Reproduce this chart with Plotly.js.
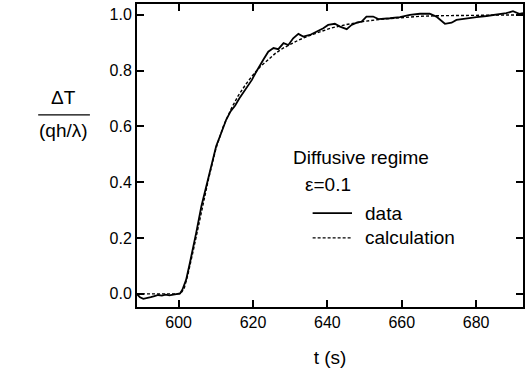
<!DOCTYPE html>
<html><head><meta charset="utf-8">
<script src="https://cdn.plot.ly/plotly-3.0.1.min.js"></script>
<style>html,body{margin:0;padding:0;background:#fff;}#plot{width:531px;height:378px;}</style>
</head><body><div id="plot"></div>
<script>
const dataT = [588.9,589.6,590.5,591.5,592.5,593.5,594.5,595.5,596.5,597.5,598.5,599.5,600.4,601.0,602.0,603.0,603.4,604.7,606.1,607.4,608.7,610.1,611.4,612.8,614.0,615.2,616.3,617.4,618.5,619.7,620.6,621.4,622.8,624.1,625.5,626.8,628.2,629.5,630.8,632.2,633.5,635.3,637.1,638.9,640.2,642.0,643.4,645.2,646.5,647.9,649.2,650.5,652.3,653.7,656.8,659.5,662.2,664.9,667.5,669.3,671.6,673.4,674.7,677.4,680.1,682.8,685.4,688.1,689.9,691.6,692.6];
const dataV = [-0.003,-0.012,-0.018,-0.016,-0.012,-0.008,-0.004,-0.006,-0.003,-0.005,-0.002,-0.001,0.002,0.015,0.050,0.110,0.134,0.218,0.313,0.385,0.456,0.530,0.575,0.625,0.655,0.675,0.700,0.722,0.745,0.767,0.790,0.810,0.840,0.868,0.881,0.877,0.899,0.892,0.916,0.932,0.922,0.928,0.940,0.952,0.964,0.968,0.958,0.949,0.964,0.972,0.976,0.994,0.994,0.985,0.988,0.992,1.000,1.004,1.004,0.994,0.968,0.972,0.982,0.988,0.992,0.996,1.000,1.006,1.013,1.004,1.006];
const calcT = [588.8,600.5,601.5,602.5,604,606,608,610,612,614,616,618,620,622,624,626,628,630,632,635,638,641,645,650,655,660,665,670,680,692.6];
const calcV = [0,0,0.02,0.07,0.16,0.29,0.41,0.52,0.60,0.66,0.71,0.75,0.785,0.815,0.84,0.862,0.88,0.895,0.908,0.925,0.94,0.953,0.965,0.977,0.985,0.991,0.995,0.997,0.999,1.0];
const xTickVals = [600,620,640,660,680];
const xTickText = ['600','620','640','660','680'];
const yTickVals = [0,0.2,0.4,0.6,0.8,1.0];
const yTickText = ['0.0','0.2','0.4','0.6','0.8','1.0'];
const legendNames = ['data','calculation'];
const noteLines = ['Diffusive regime','ε=0.1'];

const F = 'Liberation Sans';
const XR = [588.8, 692.6], YR = [-0.047, 1.039];
const traces = [
  {x: dataT, y: dataV, mode: 'lines', line: {color: '#000', width: 1.8}, name: legendNames[0], showlegend: false},
  {x: calcT, y: calcV, mode: 'lines', line: {color: '#000', width: 1.4, dash: '3px,2px'}, name: legendNames[1], showlegend: false}
];
const base = {showline: true, linewidth: 2, linecolor: 'black', mirror: 'allticks', ticks: 'inside', layer: 'above traces',
  showgrid: false, zeroline: false, tickcolor: 'black', tickwidth: 2, ticklen: 7,
  tickfont: {family: F, size: 16, color: '#000'}};
const layout = {
  width: 531, height: 378,
  margin: {l: 137, r: 8, t: 4, b: 71},
  paper_bgcolor: 'white', plot_bgcolor: 'white',
  font: {family: F, color: '#000'},
  xaxis: Object.assign({}, base, {range: XR, tickmode: 'array', tickvals: xTickVals, ticktext: xTickText,
    title: {text: 't (s)', font: {family: F, size: 19, color: '#000'}, standoff: 20}}),
  yaxis: Object.assign({}, base, {range: YR, tickmode: 'array', tickvals: yTickVals, ticktext: yTickText}),
  shapes: [
    {type: 'line', xref: 'paper', yref: 'paper', x0: -0.256, x1: -0.122, y0: 0.634, y1: 0.634, line: {color: '#000', width: 1.2}},
    {type: 'line', xref: 'paper', yref: 'paper', x0: 0.455, x1: 0.557, y0: 0.31, y1: 0.31, line: {color: '#000', width: 1.8}},
    {type: 'line', xref: 'paper', yref: 'paper', x0: 0.455, x1: 0.557, y0: 0.228, y1: 0.228, line: {color: '#000', width: 1.4, dash: '3px,2px'}}
  ],
  annotations: [
    {xref: 'paper', yref: 'paper', x: -0.19, y: 0.69, text: 'ΔT', showarrow: false, xanchor: 'center', yanchor: 'middle', font: {family: F, size: 19, color: '#000'}},
    {xref: 'paper', yref: 'paper', x: -0.19, y: 0.584, text: '(qh/λ)', showarrow: false, xanchor: 'center', yanchor: 'middle', font: {family: F, size: 19, color: '#000'}},
    {xref: 'paper', yref: 'paper', x: 0.40, y: 0.495, text: noteLines[0], showarrow: false, xanchor: 'left', yanchor: 'middle', font: {family: F, size: 19, color: '#000'}},
    {xref: 'paper', yref: 'paper', x: 0.43, y: 0.405, text: noteLines[1], showarrow: false, xanchor: 'left', yanchor: 'middle', font: {family: F, size: 19, color: '#000'}},
    {xref: 'paper', yref: 'paper', x: 0.585, y: 0.31, text: legendNames[0], showarrow: false, xanchor: 'left', yanchor: 'middle', font: {family: F, size: 19, color: '#000'}},
    {xref: 'paper', yref: 'paper', x: 0.585, y: 0.228, text: legendNames[1], showarrow: false, xanchor: 'left', yanchor: 'middle', font: {family: F, size: 19, color: '#000'}}
  ]
};
Plotly.newPlot('plot', traces, layout, {displayModeBar: false, staticPlot: true});
</script></body></html>
